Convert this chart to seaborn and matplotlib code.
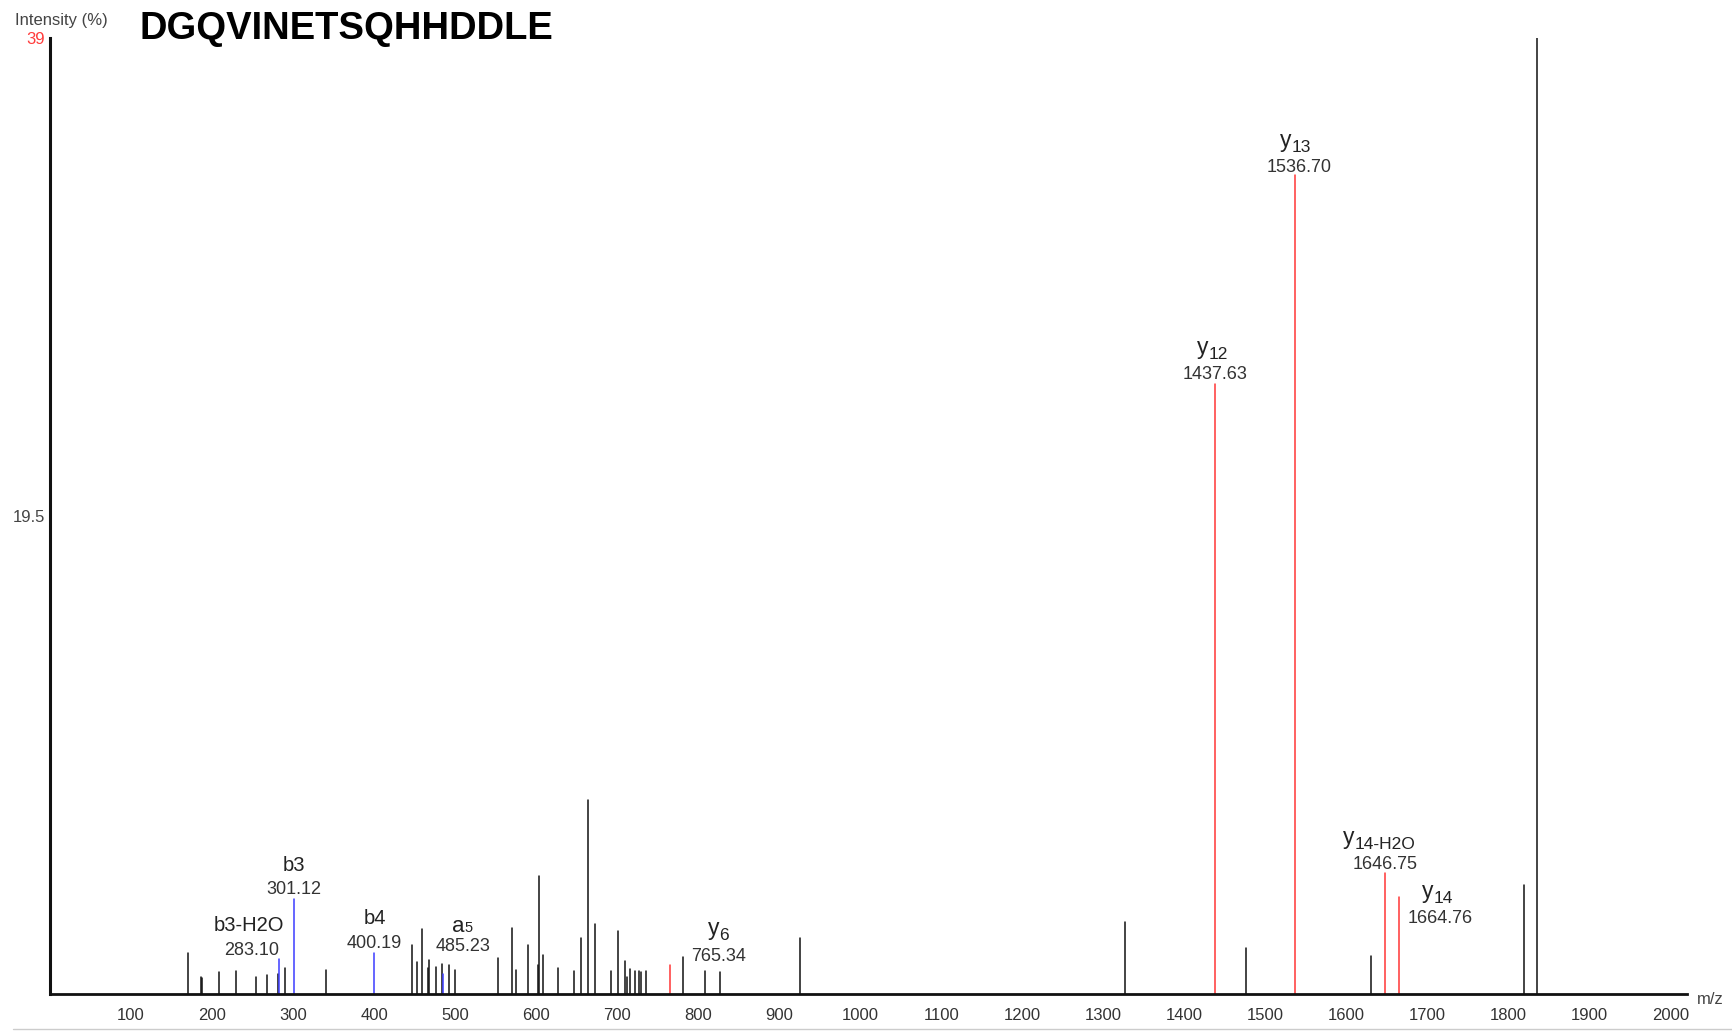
import matplotlib
matplotlib.use("Agg")
import matplotlib.pyplot as plt
from matplotlib.ticker import MultipleLocator, FuncFormatter
from matplotlib.lines import Line2D
import seaborn as sns
import pandas as pd

# ---------------- data ----------------
title = "DGQVINETSQHHDDLE"

# unassigned peaks (m/z, relative intensity %)
other_mz = [170.7, 186.5, 188.0, 208.7, 229.7, 253.7, 267.7, 281.7, 289.7, 340.7,
            446.3, 453.3, 459.0, 466.0, 468.0, 476.7, 483.3, 492.8, 499.7,
            552.4, 570.5, 574.6, 589.8, 602.0, 603.8, 608.3, 627.2, 646.1, 655.1,
            664.2, 672.4, 692.6, 701.4, 709.9, 711.5, 716.0, 722.4, 727.1, 729.5,
            735.0, 781.0, 808.0, 827.0, 926.0,
            1327.0, 1476.0, 1630.0, 1819.0, 1835.0]
other_int = [1.69, 0.71, 0.65, 0.88, 0.94, 0.71, 0.79, 0.83, 1.07, 0.99,
             2.00, 1.29, 2.64, 1.05, 1.39, 1.11, 1.22, 1.18, 0.98,
             1.46, 2.70, 0.98, 2.00, 1.18, 4.81, 1.59, 1.05, 0.94, 2.27,
             7.91, 2.86, 0.94, 2.58, 1.36, 0.71, 1.00, 0.93, 0.94, 0.91,
             0.92, 1.52, 0.94, 0.90, 2.28,
             2.95, 1.86, 1.55, 4.43, 39.0]

# b / a ions (blue): (main text, subscript-style suffix)
b_main = ["b3-H2O", "b3", "b4", "a"]
b_sub = ["", "", "", "5"]
b_mz = [283.10, 301.12, 400.19, 485.23]
b_int = [1.41, 3.88, 1.69, 0.82]

# y ions (red)
y_sub = ["6", "12", "13", "14-H2O", "14"]
y_mz = [765.34, 1437.63, 1536.70, 1646.75, 1664.76]
y_int = [1.18, 24.9, 33.4, 4.94, 3.94]

x_tick_values = list(range(100, 2001, 100))
y_tick_values = [19.5, 39]
y_tick_labels = ["19.5", "39"]

# ---------------- build table ----------------
rows = []
pid = 0
for kind, mzs, ints in (("other", other_mz, other_int),
                        ("b", b_mz, b_int),
                        ("y", y_mz, y_int)):
    for m, i in zip(mzs, ints):
        rows.append({"mz": m, "inten": 0.0, "pid": pid, "kind": kind})
        rows.append({"mz": m, "inten": i, "pid": pid, "kind": kind})
        pid += 1
df = pd.DataFrame(rows)

# ---------------- style ----------------
sns.set_style("white")
plt.rcParams["font.family"] = ["Liberation Sans", "DejaVu Sans"]

W, H = 1733, 1031
fig = plt.figure(figsize=(W / 100, H / 100), dpi=100)
ax_left, ax_right, ax_top, ax_bot = 50, 1687, 38, 994
ax = fig.add_axes([ax_left / W, (H - ax_bot) / H,
                   (ax_right - ax_left) / W, (ax_bot - ax_top) / H])

palette = {"other": "#111111", "b": "#3c3cff", "y": "#ff3535"}
sns.lineplot(data=df, x="mz", y="inten", units="pid", estimator=None,
             sort=False, hue="kind", palette=palette, legend=False,
             linewidth=1.1, ax=ax)

ax.set_xlim(0, 2020)
ax.set_ylim(0, 39)
ax.set_xlabel("")
ax.set_ylabel("")

for s in ("top", "right"):
    ax.spines[s].set_visible(False)
ax.spines["left"].set_linewidth(2.2)
ax.spines["bottom"].set_linewidth(2.0)
ax.spines["left"].set_color("#111111")
ax.spines["bottom"].set_color("#111111")

ax.xaxis.set_major_locator(MultipleLocator(50))
ax.xaxis.set_minor_locator(MultipleLocator(10))
ax.xaxis.set_major_formatter(FuncFormatter(
    lambda v, p: f"{int(round(v))}" if int(round(v)) in x_tick_values else ""))
ax.tick_params(axis="x", which="major", direction="out", length=4.0, width=1.1,
               labelsize=12, labelcolor="#333333", pad=6.0, color="#222222")
ax.tick_params(axis="x", which="minor", direction="out", length=2.0, width=0.9,
               color="#333333")

ax.set_yticks(y_tick_values)
ax.set_yticklabels(y_tick_labels)
ax.tick_params(axis="y", which="major", direction="out", length=2.5, width=1.1,
               labelsize=12, labelcolor="#444444", pad=0.8, color="#222222")
ax.get_yticklabels()[1].set_color("#ff3b3b")
ax.grid(False)

# ---------------- annotations ----------------
PX = 0.72  # pixels -> points at 100 dpi
renderer = fig.canvas.get_renderer()


def text_width(s, size):
    t = fig.text(0, 0, s, fontsize=size)
    w = t.get_window_extent(renderer).width
    t.remove()
    return w


def two_part_label(m, i, main, sub, cx, base, main_size, sub_size, drop):
    """main text + smaller suffix, centred at cx px, baseline at base px above peak top"""
    wm = text_width(main, main_size)
    ws = text_width(sub, sub_size) if sub else 0.0
    x0 = cx - (wm + ws) / 2
    ax.annotate(main, (m, i), xytext=(x0 * PX, base * PX), textcoords="offset points",
                ha="left", va="baseline", fontsize=main_size, color="#222222")
    if sub:
        ax.annotate(sub, (m, i), xytext=((x0 + wm) * PX, (base - drop) * PX),
                    textcoords="offset points", ha="left", va="baseline",
                    fontsize=sub_size, color="#222222")


num_kw = dict(fontsize=13, color="#333333", ha="center", va="center")

# offsets in pixels relative to the peak top: (num_dx, num_dy, lab_dx, lab_baseline)
b_offsets = [(-28, 8.5, -30, 28), (0, 9.3, 0, 28), (0, 9, 1, 28.5), (19.4, 27, 19.4, 42)]
y_offsets = [(48, 9, 48, 30), (0, 8.8, -2.7, 29.5), (3.6, 7.7, 0, 28),
             (0.8, 8, -5, 28.5), (41, -21.4, 38, -0.5)]

for main, sub, m, i, (ndx, ndy, ldx, lby) in zip(b_main, b_sub, b_mz, b_int, b_offsets):
    ax.annotate(f"{m:.2f}", (m, i), xytext=(ndx * PX, ndy * PX),
                textcoords="offset points", **num_kw)
    if sub:
        two_part_label(m, i, main, sub, ldx, lby, 16, 10.5, 0)
    else:
        two_part_label(m, i, main, "", ldx, lby, 14.5, 10.5, 0)

for sub, m, i, (ndx, ndy, ldx, lby) in zip(y_sub, y_mz, y_int, y_offsets):
    ax.annotate(f"{m:.2f}", (m, i), xytext=(ndx * PX, ndy * PX),
                textcoords="offset points", **num_kw)
    two_part_label(m, i, "y", sub, ldx, lby, 16.5, 12.5, 5)

# ---------------- figure texts ----------------
fig.text(15 / W, (H - 20) / H, "Intensity (%)", fontsize=12, color="#444444",
         ha="left", va="center")
fig.text(140 / W, (H - 29) / H, title, fontsize=27.5, fontweight="bold",
         color="black", ha="left", va="center")
fig.text(1697 / W, (H - 1000) / H, "m/z", fontsize=12, color="#444444",
         ha="left", va="center")
fig.add_artist(Line2D([13 / W, 1.0], [2 / H, 2 / H], color="#cccccc", lw=1.0))

fig.savefig("out.png", dpi=100)
